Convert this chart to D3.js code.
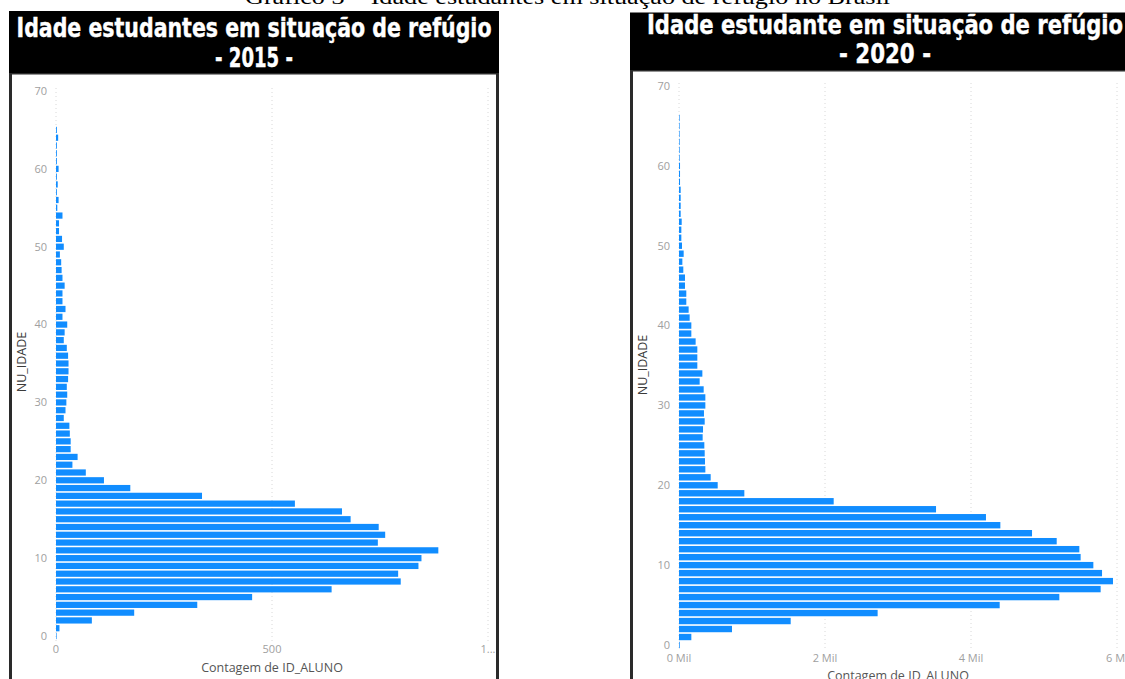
<!DOCTYPE html>
<html lang="pt">
<head>
<meta charset="utf-8">
<script src="https://d3js.org/d3.v7.min.js"></script>
<title>Idade estudantes em situação de refúgio</title>
<style>
  body { margin: 0; background: #fff; }
  .tick-label { font-family: "Open Sans", sans-serif; font-size: 11px; fill: #a0a0a0; }
  .axis-title { font-family: "Open Sans", sans-serif; font-size: 12.5px; fill: #555; }
  .head { font-family: "DejaVu Sans Condensed", "Liberation Sans Narrow", sans-serif; font-weight: bold; fill: #fff; stroke: #fff; stroke-width: 0.4px; }
</style>
</head>
<body>
<svg id="chart" width="1125" height="679"></svg>
<script>
// ages and counts
var ages2015 = d3.range(0, 66);
var count2015 = [1, 8, 83, 181, 327, 454, 638, 798, 792, 839, 846, 885, 745, 762, 747, 682, 662, 553, 338, 172,
  111, 69, 38, 50, 34, 34, 32, 31, 18, 22, 24, 26, 25, 28, 29, 29, 28, 25, 18, 20,
  26, 15, 22, 15, 15, 20, 15, 13, 12, 9, 18, 14, 7, 7, 15, 3, 6, 2, 4, 2,
  6, 2, 2, 2, 5, 2];

var ages2020 = d3.range(0, 67);
var count2020 = [10, 169, 726, 1530, 2721, 4393, 5210, 5776, 5945, 5795, 5676, 5502, 5484, 5174, 4836, 4402, 4205, 3521, 2119, 895,
  530, 434, 361, 356, 352, 347, 324, 329, 352, 342, 361, 361, 338, 283, 320, 251, 251, 251, 228, 169,
  169, 146, 132, 100, 100, 82, 82, 59, 46, 64, 41, 32, 32, 37, 23, 23, 23, 23, 14, 14,
  14, 9, 9, 9, 7, 5, 5];

var yTicks = [0, 10, 20, 30, 40, 50, 60, 70];
var xTicks2015 = [0, 500, 1000];
var xLabels2015 = ["0", "500", "1..."];
var xTicks2020 = [0, 2000, 4000, 6000];
var xLabels2020 = ["0 Mil", "2 Mil", "4 Mil", "6 Mi"];

var svg = d3.select("#chart");
var blue = "#118dff";

// caption above, mostly cut off
svg.append("text")
  .attr("x", 245).attr("y", 4)
  .attr("textLength", 645).attr("lengthAdjust", "spacingAndGlyphs")
  .style("font-family", "'Liberation Serif', serif").style("font-size", "20px").style("fill", "#000")
  .text("Gráfico 3 – Idade estudantes em situação de refúgio no Brasil");

function panel(o) {
  var g = svg.append("g");

  // frame + header
  g.append("rect")
    .attr("x", o.px + 1.5).attr("y", o.hy1)
    .attr("width", o.pw - 3).attr("height", 700)
    .attr("fill", "#fff").attr("stroke", "#2a2a2a").attr("stroke-width", 3);
  g.append("rect")
    .attr("x", o.px).attr("y", o.hy0)
    .attr("width", o.pw).attr("height", o.hy1 - o.hy0)
    .attr("fill", "#000");

  g.append("text").attr("class", "head")
    .attr("x", o.tx).attr("y", o.t1y).attr("text-anchor", "middle")
    .attr("textLength", o.t1w).attr("lengthAdjust", "spacingAndGlyphs")
    .style("font-size", "27px").text(o.title1);
  g.append("text").attr("class", "head")
    .attr("x", o.tx).attr("y", o.t2y).attr("text-anchor", "middle")
    .attr("textLength", o.t2w).attr("lengthAdjust", "spacingAndGlyphs")
    .style("font-size", "27px").text(o.title2);

  var x = d3.scaleLinear().domain(o.xDomain).range(o.xRange);
  var y = d3.scaleLinear().domain([0, 70]).range(o.yRange);

  // dotted vertical grid
  g.selectAll(".grid").data(o.xTicks).enter().append("line")
    .attr("x1", function(d) { return x(d); }).attr("x2", function(d) { return x(d); })
    .attr("y1", y(70) - 3).attr("y2", y(0) + 5)
    .attr("stroke", "#d8d8d8").attr("stroke-width", 1).attr("stroke-dasharray", "1,3");

  // y tick labels
  g.selectAll(".yt").data(yTicks).enter().append("text")
    .attr("class", "tick-label")
    .attr("x", x(0) - 9).attr("y", function(d) { return y(d); })
    .attr("dy", "0.35em").attr("text-anchor", "end")
    .text(function(d) { return d; });

  // x tick labels
  g.selectAll(".xt").data(o.xTicks).enter().append("text")
    .attr("class", "tick-label")
    .attr("x", function(d) { return x(d); }).attr("y", o.xLabelY)
    .attr("text-anchor", "middle")
    .text(function(d, i) { return o.xLabels[i]; });

  // bars
  var half = 0.4;
  g.selectAll(".bar").data(o.ages).enter().append("rect")
    .attr("x", x(0))
    .attr("y", function(d) { return y(d + half); })
    .attr("width", function(d, i) { return Math.max(0.6, x(o.counts[i]) - x(0)); })
    .attr("height", function(d) { return y(d - half) - y(d + half); })
    .attr("fill", blue);

  // axis titles
  g.append("text").attr("class", "axis-title")
    .attr("transform", "translate(" + o.yTitleX + "," + o.yTitleY + ") rotate(-90)")
    .attr("text-anchor", "middle").style("fill", "#3a3a3a")
    .text("NU_IDADE");
  g.append("text").attr("class", "axis-title")
    .attr("x", o.xTitleX).attr("y", o.xTitleY).attr("text-anchor", "middle")
    .text("Contagem de ID_ALUNO");
}

panel({
  px: 9, pw: 490, hy0: 11, hy1: 73,
  tx: 254, t1y: 37, t2y: 67, t1w: 475, t2w: 78,
  title1: "Idade estudantes em situação de refúgio", title2: "- 2015 -",
  ages: ages2015, counts: count2015,
  xDomain: [0, 1000], xRange: [56, 488], yRange: [636, 91],
  xTicks: xTicks2015, xLabels: xLabels2015, xLabelY: 653,
  yTitleX: 26, yTitleY: 362, xTitleX: 272, xTitleY: 672
});

panel({
  px: 630, pw: 520, hy0: 12.5, hy1: 70,
  tx: 885, t1y: 34, t2y: 63, t1w: 476, t2w: 92,
  title1: "Idade estudante em situação de refúgio", title2: "- 2020 -",
  ages: ages2020, counts: count2020,
  xDomain: [0, 6000], xRange: [679, 1117], yRange: [645, 86],
  xTicks: xTicks2020, xLabels: xLabels2020, xLabelY: 662,
  yTitleX: 647, yTitleY: 365, xTitleX: 898, xTitleY: 680
});
</script>
</body>
</html>
